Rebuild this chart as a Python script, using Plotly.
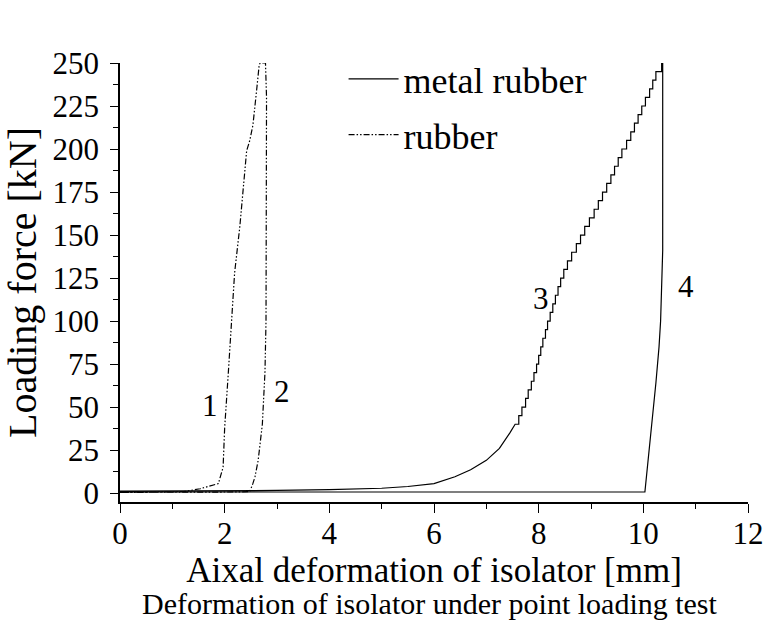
import plotly.graph_objects as go

# ---------------- data ----------------
# metal rubber: smooth low part of loading curve 3
mr_load_x = [0.0, 1.0, 2.0, 3.0, 4.0, 5.0, 5.5, 6.0, 6.4, 6.7, 7.0, 7.25, 7.45]
mr_load_y = [1.2, 1.2, 1.3, 1.5, 2.0, 2.8, 3.8, 5.5, 9.5, 13.5, 19.0, 26.0, 35.0]
# metal rubber: stepped upper part of loading curve 3 (one point per load step)
mr_step_x = [7.55, 7.62, 7.68, 7.75, 7.80, 7.86, 7.91, 7.96, 8.00, 8.04, 8.08,
             8.13, 8.17, 8.22, 8.27, 8.32, 8.37, 8.42, 8.48, 8.55, 8.63, 8.72,
             8.80, 8.88, 8.97, 9.06, 9.14, 9.22, 9.30, 9.38, 9.45, 9.52, 9.59,
             9.68, 9.76, 9.83, 9.90, 9.97, 10.04, 10.12, 10.18, 10.24, 10.35]
mr_step_y = [40, 45, 50, 55, 60, 65, 70, 75, 80, 85, 90,
             95, 100, 105, 110, 115, 120, 125, 130, 135, 140, 145,
             150, 155, 160, 165, 170, 175, 180, 185, 190, 195, 200,
             205, 210, 215, 220, 225, 230, 235, 240, 245, 250]
# metal rubber: unloading curve 4 and return along the baseline
mr_unload_x = [10.37, 10.37, 10.33, 10.30, 10.24, 10.14, 10.07, 10.03, 0.0]
mr_unload_y = [250, 141, 100, 85, 64, 33, 12, 0.6, 0.6]

# rubber: loading curve 1, top, unloading curve 2, baseline return
rub_x = [0.0, 0.5, 1.0, 1.21, 1.53, 1.78, 1.88, 1.97, 2.00, 2.07, 2.13, 2.19,
         2.29, 2.35, 2.42, 2.48, 2.54, 2.61, 2.66, 2.68, 2.78, 2.80, 2.80,
         2.79, 2.77, 2.72, 2.64, 2.58, 2.54, 2.48, 2.0, 1.0, 0.0]
rub_y = [0.4, 0.4, 0.6, 0.8, 2.5, 4.5, 5.5, 15, 38, 70, 99, 128,
         155, 176, 199, 205, 214, 234, 249, 250, 250, 230, 147,
         100, 70, 40, 19, 9.5, 5.6, 0.8, 0.6, 0.5, 0.4]

curve_labels = ["1", "2", "3", "4"]
label_x = [1.72, 3.10, 8.05, 10.81]
label_y = [51, 59, 113, 120]

x_ticks = [0, 2, 4, 6, 8, 10, 12]
y_ticks = [0, 25, 50, 75, 100, 125, 150, 175, 200, 225, 250]

# ---------------- build stepped path from the step data ----------------
stair_x, stair_y = [], []
for i in range(len(mr_step_x)):
    stair_x.append(mr_step_x[i]); stair_y.append(mr_step_y[i])
    if i + 1 < len(mr_step_x):
        stair_x.append(mr_step_x[i + 1]); stair_y.append(mr_step_y[i])

mr_x = mr_load_x + stair_x + mr_unload_x
mr_y = mr_load_y + stair_y + mr_unload_y

FONT = "Liberation Serif"

fig = go.Figure()
fig.add_trace(go.Scatter(x=mr_x, y=mr_y, mode="lines", name="metal rubber",
                         legendgroup="a",
                         line=dict(color="black", width=1.2)))
fig.add_trace(go.Scatter(x=rub_x, y=rub_y, mode="lines", name="rubber",
                         legendgroup="b",
                         line=dict(color="black", width=1.2,
                                   dash="6px,2px,1.5px,2px,1.5px,2px")))

for t, xx, yy in zip(curve_labels, label_x, label_y):
    fig.add_annotation(x=xx, y=yy, text=t, showarrow=False,
                       font=dict(family=FONT, size=31, color="black"))

fig.add_annotation(xref="paper", yref="paper", x=0.494, y=-0.232,
                   xanchor="center", yanchor="middle",
                   text="Deformation of isolator under point loading test",
                   showarrow=False, font=dict(family=FONT, size=30, color="black"))

fig.update_layout(
    width=768, height=622,
    margin=dict(l=120, r=20, t=63, b=120, autoexpand=False),
    plot_bgcolor="white", paper_bgcolor="white",
    font=dict(family=FONT, color="black"),
    showlegend=True,
    legend=dict(x=0.356, y=1.032, xanchor="left", yanchor="top",
                font=dict(family=FONT, size=36, color="black"),
                bgcolor="rgba(0,0,0,0)", tracegroupgap=6, itemwidth=50),
    xaxis=dict(range=[0, 12], tickvals=x_ticks, ticks="outside", ticklen=9,
               tickwidth=1.3, tickcolor="black", ticklabelstandoff=-6,
               automargin=False,
               minor=dict(dtick=1, ticks="outside", ticklen=5, tickcolor="black", tickwidth=1.2),
               showline=True, linecolor="black", linewidth=1.5,
               showgrid=False, zeroline=False,
               tickfont=dict(family=FONT, size=31, color="black"),
               title=dict(text="Aixal deformation of isolator [mm]",
                          font=dict(family=FONT, size=35, color="black"),
                          standoff=2)),
    yaxis=dict(range=[-5.2, 250.01], tickvals=y_ticks, ticks="outside", ticklen=8,
               tickwidth=1.3, tickcolor="black", ticklabelstandoff=5,
               automargin=False,
               minor=dict(dtick=12.5, ticks="outside", ticklen=5, tickcolor="black", tickwidth=1.2),
               showline=True, linecolor="black", linewidth=1.5,
               showgrid=False, zeroline=False,
               tickfont=dict(family=FONT, size=31, color="black"),
               title=dict(text="Loading force [kN]",
                          font=dict(family=FONT, size=40, color="black"),
                          standoff=14)),
)

# remove the page's default body margin so the 768x622 figure fills the window exactly
fig.write_html("out.html", config={"displayModeBar": False},
               post_script="document.body.style.margin='0';")
